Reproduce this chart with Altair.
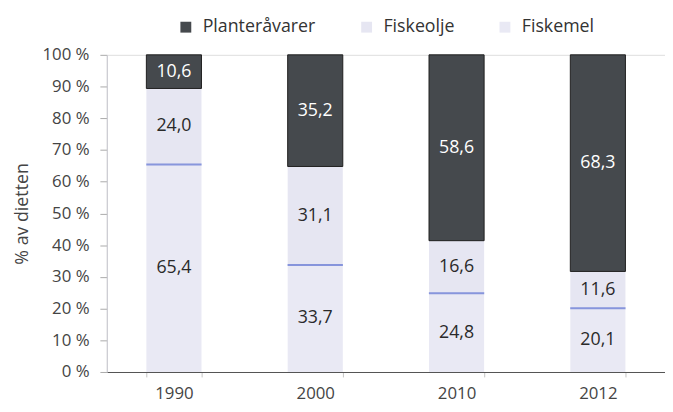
import altair as alt
import pandas as pd

years = ["1990", "2000", "2010", "2012"]
fiskemel = [65.4, 33.7, 24.8, 20.1]
fiskeolje = [24.0, 31.1, 16.6, 11.6]
plante = [10.6, 35.2, 58.6, 68.3]
series = ["Planteråvarer", "Fiskeolje", "Fiskemel"]
colors = ["#45494d", "#e6e6f2", "#e9e9f4"]

rows = []
for i, yr in enumerate(years):
    base = 0.0
    for name, vals in [("Fiskemel", fiskemel), ("Fiskeolje", fiskeolje), ("Planteråvarer", plante)]:
        v = vals[i]
        rows.append({
            "year": yr, "series": name, "value": v,
            "y0": base, "y1": base + v, "mid": base + v / 2,
            "label": f"{v:.1f}".replace(".", ","),
        })
        base += v
df = pd.DataFrame(rows)

FONT = "Open Sans"

xaxis = alt.Axis(labelAngle=0, tickBand="extent", labelPadding=9,
                 tickColor="#c4c4c4", tickSize=5, domainColor="#555",
                 domainWidth=1.2)
xscale = alt.Scale(paddingInner=0.61, paddingOuter=0.28)
yaxis = alt.Axis(values=list(range(0, 101, 10)), tickCount=11,
                 labelExpr="datum.value + ' %'", labelOverlap=False,
                 labelPadding=11, tickColor="#aaa", tickSize=7,
                 domainColor="#c8c8d0", grid=False, titlePadding=11)
yscale = alt.Scale(domain=[0, 100], nice=False)
YT = "% av dietten"

bars = alt.Chart(df).mark_bar(strokeWidth=1).encode(
    x=alt.X("year:N", title=None, scale=xscale, axis=xaxis),
    y=alt.Y("y0:Q", title=YT, scale=yscale, axis=yaxis),
    y2="y1:Q",
    color=alt.Color("series:N",
                    scale=alt.Scale(domain=series, range=colors),
                    legend=alt.Legend(title=None, orient="none", direction="horizontal",
                                      legendX=71, legendY=-37,
                                      labelFont=FONT, labelFontSize=18, labelColor="#333",
                                      symbolType="square", symbolSize=121,
                                      symbolStrokeWidth=0,
                                      columnPadding=42, labelOffset=8)),
    stroke=alt.condition(alt.datum.series == "Planteråvarer",
                         alt.value("#1e1e1e"), alt.value("transparent")),
)

seps = alt.Chart(df[df.series == "Fiskemel"]).mark_tick(
    color="#5d70d2", thickness=2, size=56, orient="horizontal").encode(
    x=alt.X("year:N", title=None, scale=xscale, axis=xaxis),
    y=alt.Y("y1:Q", title=YT, scale=yscale, axis=yaxis))

labels = alt.Chart(df).mark_text(font=FONT, fontSize=18, baseline="middle").encode(
    x=alt.X("year:N", title=None, scale=xscale, axis=xaxis),
    y=alt.Y("mid:Q", title=YT, scale=yscale, axis=yaxis),
    text="label:N",
    color=alt.condition(alt.datum.series == "Planteråvarer",
                        alt.value("#ffffff"), alt.value("#2a2a2a")),
)

chart = alt.layer(bars, seps, labels).properties(
    width=565, height=321,
    autosize=alt.AutoSizeParams(type="none"),
    padding={"left": 100, "top": 45, "right": 0, "bottom": 30},
).configure_view(stroke=None).configure(background="#ffffff").configure_axis(
    labelFont=FONT, labelFontSize=17, labelColor="#444",
    titleFont=FONT, titleFontSize=18, titleFontWeight="normal", titleColor="#444",
)

chart.save("out.html", embed_options={"renderer": "svg", "actions": False})
